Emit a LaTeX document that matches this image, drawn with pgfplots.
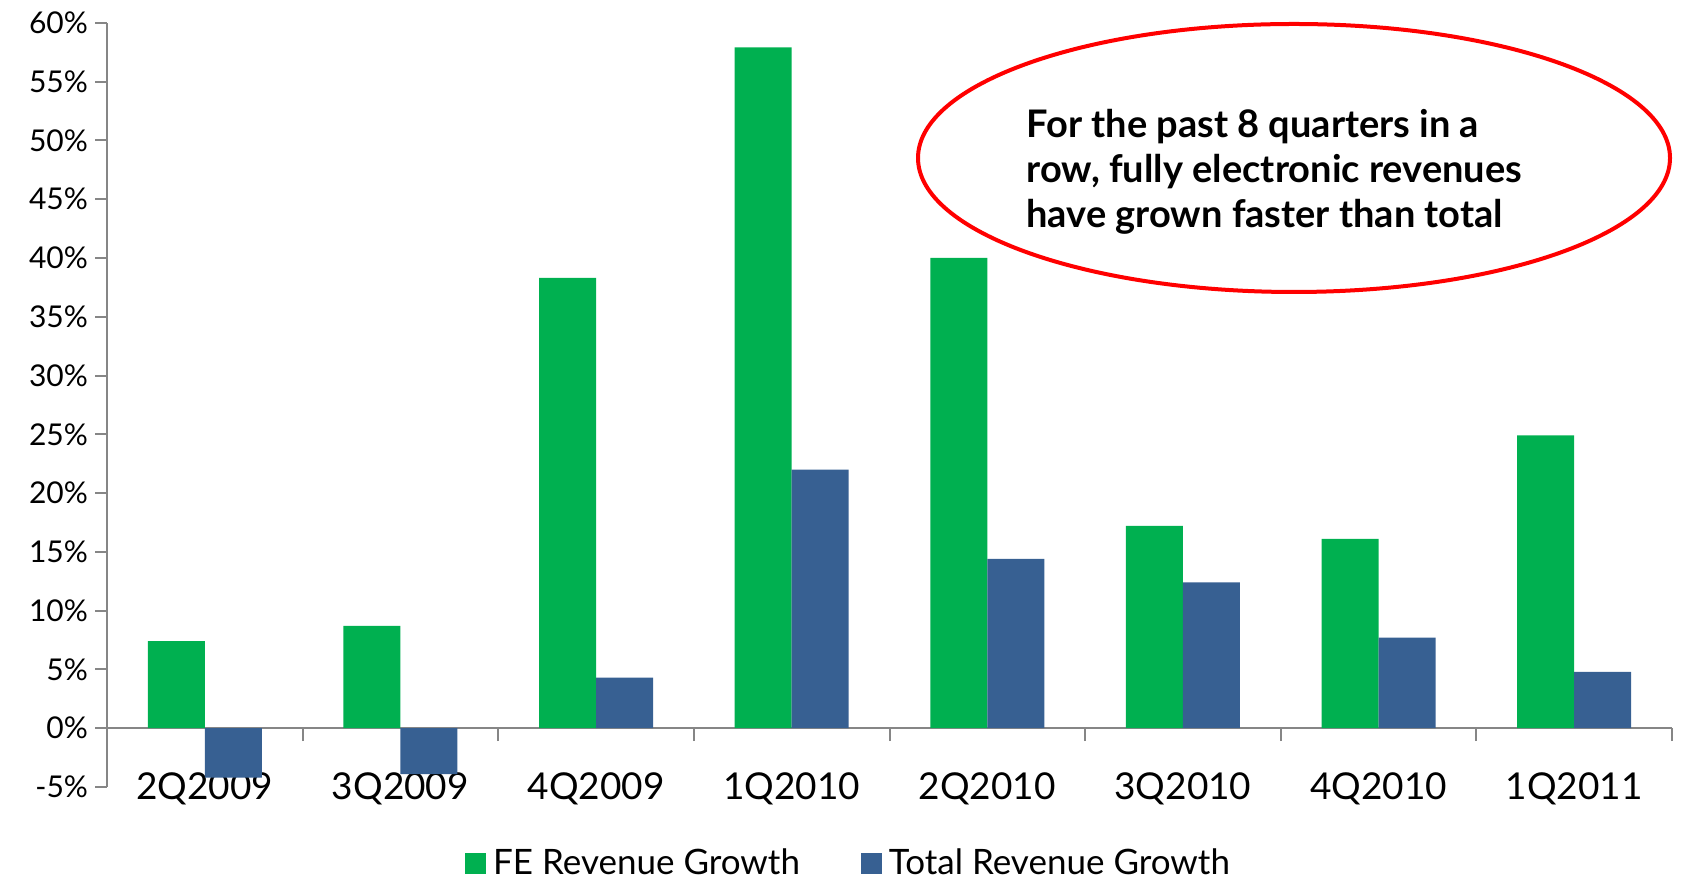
\documentclass[border=0pt]{standalone}
\usepackage{fontspec}
\setmainfont{Lato}
\usepackage{pgfplots}
\pgfplotsset{compat=1.18}
\definecolor{feg}{RGB}{0,176,80}
\definecolor{totb}{RGB}{55,96,146}
\definecolor{axg}{RGB}{134,134,134}
\begin{document}
\begin{tikzpicture}
\useasboundingbox (0,0) rectangle (840.5pt,444pt);
\begin{axis}[
  at={(53.5pt,50.5pt)}, anchor=south west,
  width=782.5pt, height=382.1pt, scale only axis,
  xmin=-0.5, xmax=7.5, ymin=-5, ymax=60,
  axis x line=middle, axis y line=left,
  axis line style={-, axg, line width=1pt},
  ybar=0pt, bar width=28.5pt,
  xtick={0,...,7},
  xticklabels={2Q2009,3Q2009,4Q2009,1Q2010,2Q2010,3Q2010,4Q2010,1Q2011},
  major x tick style={draw=none},
  minor xtick={-0.5,0.5,...,7.5},
  minor x tick style={axg, line width=1pt},
  ytick={-5,0,5,10,15,20,25,30,35,40,45,50,55,60},
  yticklabels={-5\%,0\%,5\%,10\%,15\%,20\%,25\%,30\%,35\%,40\%,45\%,50\%,55\%,60\%},
  ytick style={axg, line width=1pt},
  tick align=outside, major tick length=6pt, minor tick length=6.5pt,
  xticklabel style={font=\fontsize{18.5}{21}\selectfont, anchor=center, yshift=-24.5pt},
  yticklabel style={font=\fontsize{15}{17}\selectfont},
  legend style={draw=none, fill=none, at={(0.4754,-0.0995)}, anchor=center,
    legend columns=2, font=\fontsize{17.5}{19}\selectfont,
    /tikz/every even column/.append style={column sep=27pt},
    nodes={inner xsep=3.5pt}},
  legend image code/.code={\fill[#1] (0pt,-5.25pt) rectangle (10.5pt,5.25pt);},
  clip=false,
]
\addplot[fill=feg, draw=none] coordinates {(0,7.4) (1,8.7) (2,38.3) (3,57.9) (4,40.0) (5,17.2) (6,16.1) (7,24.9)};
\addplot[fill=totb, draw=none] coordinates {(0,-4.2) (1,-3.9) (2,4.3) (3,22.0) (4,14.4) (5,12.4) (6,7.7) (7,4.8)};
\legend{FE Revenue Growth, Total Revenue Growth}
\end{axis}
\draw[red, line width=2pt] (647pt,365pt) ellipse [x radius=188pt, y radius=67pt];
\node[anchor=west, align=left, font=\fontsize{19}{22.5}\selectfont\bfseries, inner sep=0pt] at (513pt,358pt) {For the past 8 quarters in a\\row, fully electronic revenues\\have grown faster than total};
\end{tikzpicture}
\end{document}
